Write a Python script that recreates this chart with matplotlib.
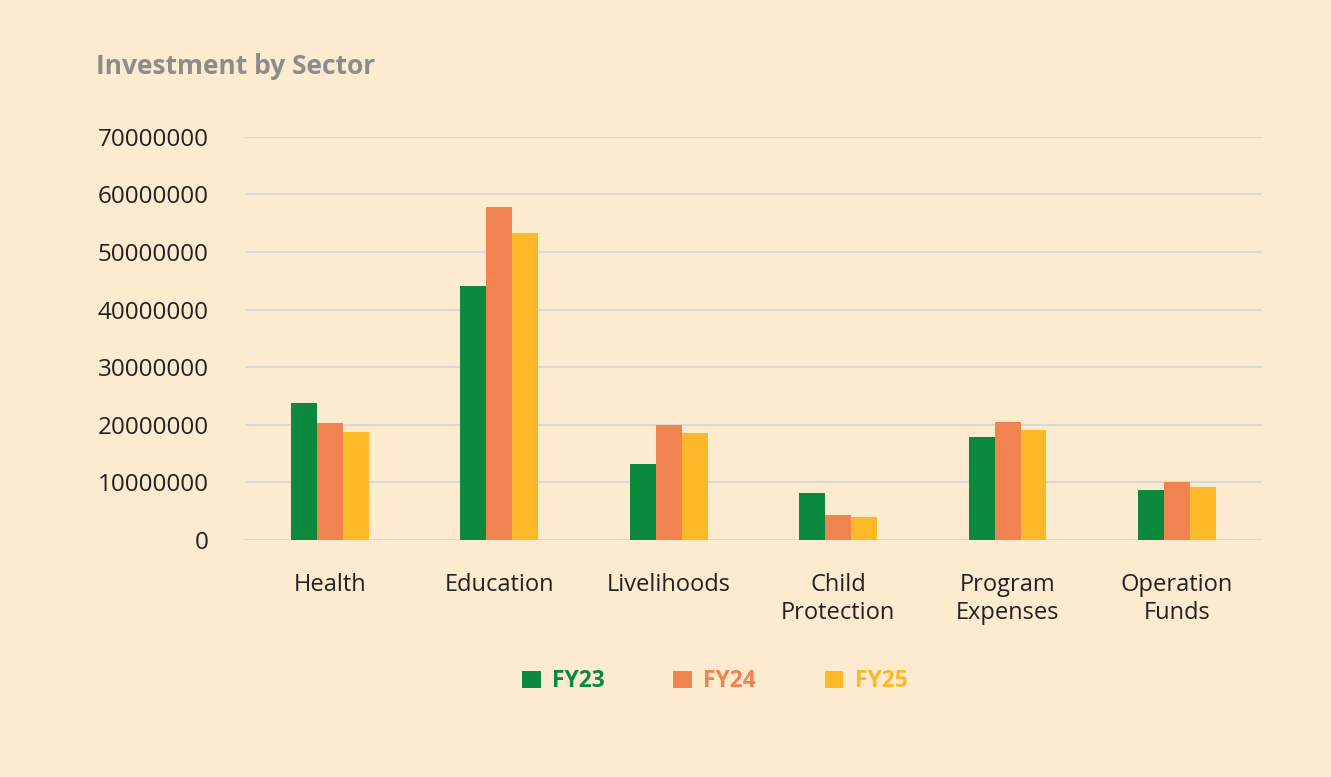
import matplotlib
matplotlib.use("Agg")
import matplotlib.pyplot as plt
import numpy as np

SECTORS = ["Health", "Education", "Livelihoods", "Child\nProtection", "Program\nExpenses", "Operation\nFunds"]
FY23 = [23.8e6, 44.1e6, 13.2e6, 8.2e6, 17.9e6, 8.7e6]
FY24 = [20.3e6, 57.8e6, 20.0e6, 4.3e6, 20.5e6, 10.1e6]
FY25 = [18.8e6, 53.3e6, 18.6e6, 4.0e6, 19.1e6, 9.2e6]
SERIES = [("FY23", FY23, "#0B8A3E"), ("FY24", FY24, "#F0834F"), ("FY25", FY25, "#FDB827")]

BG = "#FDEBD0"
plt.rcParams["font.family"] = ["Open Sans", "DejaVu Sans"]

fig = plt.figure(figsize=(13.31, 7.77), dpi=100, facecolor=BG)
ax = fig.add_axes([0.184, 0.305, 0.764, 0.519], facecolor=BG)

x = np.arange(len(SECTORS))
width = 0.153
for i, (name, vals, color) in enumerate(SERIES):
    ax.bar(x + (i - 1) * width, vals, width=width, color=color, label=name, zorder=3)

ax.set_xlim(-0.5, len(SECTORS) - 0.5)
ax.set_ylim(0, 70e6)
ax.set_yticks(np.arange(0, 70e6 + 1, 10e6))
ax.set_yticklabels([f"{int(v)}" for v in np.arange(0, 70e6 + 1, 10e6)], fontsize=17.5, color="#222222")
ax.set_xticks(x)
ax.set_xticklabels(SECTORS, fontsize=17, color="#222222", linespacing=1.2)
ax.tick_params(axis="y", length=0, pad=26)
ax.tick_params(axis="x", length=0, pad=24)
ax.grid(True, axis="y", color="#D9D9D9", linewidth=1.5, zorder=0)
for s in ax.spines.values():
    s.set_visible(False)

fig.text(0.072, 0.905, "Investment by Sector", fontsize=19, fontweight="bold", color="#8C8C8C")

leg = fig.legend(loc="center", bbox_to_anchor=(0.537, 0.123), ncol=3, frameon=False,
                 fontsize=16.5, handlelength=0.8, handleheight=0.8, columnspacing=3.0, handletextpad=0.5)
for text, (_, _, color) in zip(leg.get_texts(), SERIES):
    text.set_color(color)
    text.set_fontweight("bold")

fig.savefig("out.png", dpi=100, facecolor=BG)
